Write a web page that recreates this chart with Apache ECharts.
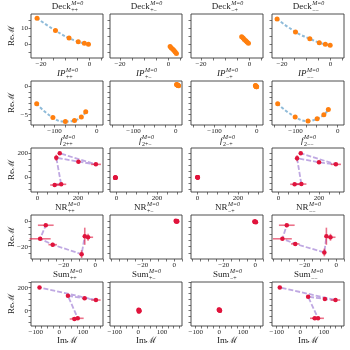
<!DOCTYPE html>
<html>
<head>
<meta charset="utf-8">
<script src="https://cdn.jsdelivr.net/npm/echarts@6/dist/echarts.min.js"></script>
<style>
  html, body { margin: 0; padding: 0; background: #fff; }
  #chart { width: 350px; height: 350px; }
</style>
</head>
<body>
<div id="chart"></div>
<script>
// ---- data (Im M on x, Re M on y) ----
// Deck
const deckPP_x = [-21.6, -14, -8.4, -4.6, -2.1, -0.4];
const deckPP_y = [16, 8.4, 3.8, 1.6, 0.6, 0];
const deckPM_x = [0.7, 1.2, 1.8, 2.3, 2.8, 3.3];
const deckPM_y = [-1.4, -2.2, -3.0, -3.8, -4.7, -5.6];
const deckMP_x = [-3.2, -2.6, -2.1, -1.5, -1.0, -0.4];
const deckMP_y = [4.6, 3.8, 3.0, 2.2, 1.4, 0.6];
const deckMM_x = [-22, -14.4, -8.5, -4.6, -2.1, -0.1];
const deckMM_y = [15.6, 7.6, 3.4, 1.0, 0, -0.6];

// IP
const ipPP_x = [-142.5, -104, -74.4, -52.7, -36.5, -26];
const ipPP_y = [-3.1, -5.5, -6.2, -6.0, -5.4, -4.5];
const ipPM_x = [2, 3, 4, 5, 6, 7];
const ipPM_y = [0.3, 0.25, 0.2, 0.15, 0.1, 0.05];
const ipMP_x = [-3, -2.4, -1.8, -1.2, -0.6, 0];
const ipMP_y = [0.1, 0.05, 0, -0.05, -0.1, -0.1];
const ipMM_x = [-142.5, -101, -70.5, -48.8, -32.8, -22.2];
const ipMM_y = [-3.1, -5.4, -6.1, -5.7, -5.0, -4.1];

// f2
const f2PP_x = [85, 117, 93, 202, 288, 110];
const f2PP_y = [-64, -58, 163, 130, 108, 200];
const f2PP_xerr = [22, 25, 5, 10, 25, 5];
const f2PP_yerr = [10, 10, 25, 8, 6, 8];
const f2PM_x = [-6, -5, -4, -5, -6, -4];
const f2PM_y = [-2, -3, -4, -3, -4, -2];
const f2PM_xerr = [1, 1, 1, 1, 1, 1];
const f2PM_yerr = [1, 1, 1, 1, 1, 1];
const f2MP_x = [0, 1, 2, 1, 0, 2];
const f2MP_y = [0, 1, -1, 0, 1, -1];
const f2MP_xerr = [1, 1, 1, 1, 1, 1];
const f2MP_yerr = [1, 1, 1, 1, 1, 1];
const f2MM_x = [80, 113, 92, 200, 283, 110];
const f2MM_y = [-58, -56, 158, 125, 108, 200];
const f2MM_xerr = [22, 25, 5, 10, 25, 5];
const f2MM_yerr = [10, 10, 25, 8, 6, 8];

// NR
const nrPP_x = [-4.5, -6.6, -8.6, -27, -35, -31.4];
const nrPP_y = [-12.6, -11.8, -25.8, -18.4, -13.8, -3.2];
const nrPP_xerr = [3.2, 1, 1, 2.7, 6.7, 5];
const nrPP_yerr = [2.7, 6.7, 3, 1.5, 1, 1];
const nrPM_x = [1, 1.5, 2, 1.2, 1.8, 1.5];
const nrPM_y = [0.3, 0, -0.3, -0.2, 0.2, 0];
const nrPM_xerr = [0.2, 0.2, 0.2, 0.2, 0.2, 0.2];
const nrPM_yerr = [0.2, 0.2, 0.2, 0.2, 0.2, 0.2];
const nrMP_x = [-0.5, 0, 0.5, -0.2, 0.3, 0];
const nrMP_y = [-0.2, -0.5, -0.8, -0.6, -0.4, -0.5];
const nrMP_xerr = [0.2, 0.2, 0.2, 0.2, 0.2, 0.2];
const nrMP_yerr = [0.2, 0.2, 0.2, 0.2, 0.2, 0.2];
const nrMM_x = [-3.6, -6.2, -7.5, -26, -34.2, -31.4];
const nrMM_y = [-12.6, -11.8, -24.5, -17.8, -13.8, -3.2];
const nrMM_xerr = [3.2, 1, 1, 2.7, 6, 5];
const nrMM_yerr = [2.7, 6.7, 3, 1.5, 1, 1];

// Sum
const sumPP_x = [64, 78, 36.5, 107, 155, -84];
const sumPP_y = [-72, -66, 130, 108, 93, 203];
const sumPP_xerr = [20, 25, 5, 8, 20, 5];
const sumPP_yerr = [10, 10, 10, 8, 8, 8];
const sumPM_x = [1, 2, 4, 3, 5, 2];
const sumPM_y = [8, 4, -4, 6, 0, -6];
const sumPM_xerr = [1, 1, 1, 1, 1, 1];
const sumPM_yerr = [1, 1, 1, 1, 1, 1];
const sumMP_x = [-2, 0, 2, 1, -1, 3];
const sumMP_y = [10, 6, 2, 8, 4, 0];
const sumMP_xerr = [1, 1, 1, 1, 1, 1];
const sumMP_yerr = [1, 1, 1, 1, 1, 1];
const sumMM_x = [61, 75, 33, 104, 149, -87];
const sumMM_y = [-66, -66, 122, 102, 93, 203];
const sumMM_xerr = [20, 25, 5, 8, 20, 5];
const sumMM_yerr = [10, 10, 10, 8, 8, 8];

// tick labels per row
const xTickLabels = [[-20, 0], [-100, 0], [0, 200], [-20, 0], [-100, 0, 100]];
const yTickLabels = [[0, 10], [-5, 0], [0, 200], [-20, 0], [0, 200]];

// ---- layout / style ----
const colLeft = [31, 110, 191, 272];
const rowTop = [14, 81, 148, 215, 282];
const PW = 72, PH = 44;
const ORANGE = '#ff7f0e', BLUE = '#1f77b4', RED = '#e0143c', PURPLE = '#a98bd8';
const FONT = '"Liberation Serif", "DejaVu Serif", serif';
const subs = ['++', '+\u2212', '\u2212+', '\u2212\u2212'];

const rows = [
  { base: 'Deck', italic: false, kind: 'fit', xr: [-24.1, 5.6], yr: [-8.4, 18.6], xm: 5, ym: 5,
    panels: [[deckPP_x, deckPP_y], [deckPM_x, deckPM_y], [deckMP_x, deckMP_y], [deckMM_x, deckMM_y]] },
  { base: 'IP', italic: true, kind: 'fit', xr: [-156, 15], yr: [-6.8, 0.9], xm: 25, ym: 1,
    panels: [[ipPP_x, ipPP_y], [ipPM_x, ipPM_y], [ipMP_x, ipMP_y], [ipMM_x, ipMM_y]] },
  { base: 'f', italic: true, pre: '2', kind: 'err', xr: [-31.5, 323], yr: [-122, 244], xm: 50, ym: 50,
    panels: [[f2PP_x, f2PP_y, f2PP_xerr, f2PP_yerr], [f2PM_x, f2PM_y, f2PM_xerr, f2PM_yerr],
             [f2MP_x, f2MP_y, f2MP_xerr, f2MP_yerr], [f2MM_x, f2MM_y, f2MM_xerr, f2MM_yerr]] },
  { base: 'NR', italic: false, kind: 'err', xr: [-40.8, 5], yr: [-29.6, 4.8], xm: 5, ym: 5,
    panels: [[nrPP_x, nrPP_y, nrPP_xerr, nrPP_yerr], [nrPM_x, nrPM_y, nrPM_xerr, nrPM_yerr],
             [nrMP_x, nrMP_y, nrMP_xerr, nrMP_yerr], [nrMM_x, nrMM_y, nrMM_xerr, nrMM_yerr]] },
  { base: 'Sum', italic: false, kind: 'err', xr: [-120, 185], yr: [-133, 250], xm: 25, ym: 50,
    panels: [[sumPP_x, sumPP_y, sumPP_xerr, sumPP_yerr], [sumPM_x, sumPM_y, sumPM_xerr, sumPM_yerr],
             [sumMP_x, sumMP_y, sumMP_xerr, sumMP_yerr], [sumMM_x, sumMM_y, sumMM_xerr, sumMM_yerr]] }
];

const fmt = v => (v < 0 ? '\u2212' + Math.abs(v) : String(v));

function minorTicks(range, step) {
  const out = [];
  for (let v = Math.ceil(range[0] / step) * step; v <= range[1]; v += step) out.push(+v.toFixed(6));
  return out;
}

const measureCtx = document.createElement('canvas').getContext('2d');
function textW(text, size, italic) {
  measureCtx.font = (italic ? 'italic ' : '') + size + 'px ' + FONT;
  return measureCtx.measureText(text).width;
}

function errorBarItem(params, api) {
  const x = api.value(0), y = api.value(1), ex = api.value(2), ey = api.value(3);
  const a = api.coord([x - ex, y]), b = api.coord([x + ex, y]);
  const c = api.coord([x, y - ey]), d = api.coord([x, y + ey]);
  const style = { stroke: RED, lineWidth: 1.6, opacity: 0.6 };
  return {
    type: 'group',
    children: [
      { type: 'line', shape: { x1: a[0], y1: a[1], x2: b[0], y2: b[1] }, style },
      { type: 'line', shape: { x1: c[0], y1: c[1], x2: d[0], y2: d[1] }, style }
    ]
  };
}

const grid = [], xAxis = [], yAxis = [], series = [], graphic = [];

rows.forEach((row, r) => {
  row.panels.forEach((p, c) => {
    const idx = grid.length;
    grid.push({
      left: colLeft[c], top: rowTop[r], width: PW, height: PH,
      show: true, borderColor: '#3a3a3a', borderWidth: 0.9, backgroundColor: 'transparent'
    });
    xAxis.push({
      gridIndex: idx, type: 'value', min: row.xr[0], max: row.xr[1], position: 'bottom',
      axisLine: { show: false, onZero: false }, splitLine: { show: false },
      axisTick: { show: true, customValues: minorTicks(row.xr, row.xm), length: 2.5, lineStyle: { color: '#3a3a3a', width: 0.7 } },
      axisLabel: { customValues: xTickLabels[r], formatter: fmt, fontSize: 7, fontFamily: FONT, color: '#222', margin: 3 }
    });
    yAxis.push({
      gridIndex: idx, type: 'value', min: row.yr[0], max: row.yr[1], position: 'left',
      axisLine: { show: false, onZero: false }, splitLine: { show: false },
      axisTick: { show: true, customValues: minorTicks(row.yr, row.ym), length: 2.5, lineStyle: { color: '#3a3a3a', width: 0.7 } },
      axisLabel: { show: c === 0, customValues: yTickLabels[r], formatter: fmt, fontSize: 7, fontFamily: FONT, color: '#222', margin: 3 }
    });

    const pts = p[0].map((x, i) => [x, p[1][i]]);
    if (row.kind === 'fit') {
      series.push({
        type: 'line', xAxisIndex: idx, yAxisIndex: idx, data: pts, smooth: true,
        showSymbol: false, silent: true, z: 1,
        lineStyle: { color: BLUE, width: 2, opacity: 0.5, type: [3, 2] }
      });
      series.push({
        type: 'scatter', xAxisIndex: idx, yAxisIndex: idx, data: pts, symbolSize: 5, z: 3,
        itemStyle: { color: ORANGE, opacity: 1 }
      });
    } else {
      series.push({
        type: 'line', xAxisIndex: idx, yAxisIndex: idx, data: pts, showSymbol: false, silent: true, z: 1,
        lineStyle: { color: PURPLE, width: 1.8, opacity: 0.75, type: [5, 2] }
      });
      series.push({
        type: 'custom', xAxisIndex: idx, yAxisIndex: idx, renderItem: errorBarItem, z: 2,
        encode: { x: 0, y: 1 },
        data: pts.map((q, i) => [q[0], q[1], p[2][i], p[3][i]])
      });
      series.push({
        type: 'scatter', xAxisIndex: idx, yAxisIndex: idx, data: pts, symbolSize: 4.5, z: 3,
        itemStyle: { color: RED, opacity: 1 }
      });
    }

    // panel title: base + optional lowered prefix + stacked sup/sub
    const bs = 9, ss = 6;
    const sub = (row.pre || '') + subs[c];
    const wBase = textW(row.base, bs, row.italic);
    const wStack = Math.max(textW('M=0', ss, false), textW(sub, ss, false));
    const x0 = colLeft[c] + PW / 2 - (wBase + wStack) / 2;
    const yc = rowTop[r] - 7;
    graphic.push({ type: 'text', x: x0, y: yc, style: { text: row.base, font: (row.italic ? 'italic ' : '') + bs + 'px ' + FONT, fill: '#222', textAlign: 'left', textVerticalAlign: 'middle' } });
    graphic.push({ type: 'text', x: x0 + wBase + 0.5, y: yc - 3.5, style: { text: 'M=0', font: 'italic ' + ss + 'px ' + FONT, fill: '#222', textAlign: 'left', textVerticalAlign: 'middle' } });
    graphic.push({ type: 'text', x: x0 + wBase + 0.5, y: yc + 3, style: { text: sub, font: ss + 'px ' + FONT, fill: '#222', textAlign: 'left', textVerticalAlign: 'middle' } });
  });

  // y label on the left column
  graphic.push({
    type: 'text', x: 12, y: rowTop[r] + PH / 2, rotation: Math.PI / 2,
    style: { text: 'Re\u2133', font: '9px ' + FONT, fill: '#222', textAlign: 'center', textVerticalAlign: 'middle' }
  });
});

// x labels under the bottom row
colLeft.forEach(l => {
  graphic.push({
    type: 'text', x: l + PW / 2, y: rowTop[4] + PH + 15,
    style: { text: 'Im\u2133', font: '9px ' + FONT, fill: '#222', textAlign: 'center', textVerticalAlign: 'middle' }
  });
});

const chart = echarts.init(document.getElementById('chart'));
chart.setOption({ animation: false, grid, xAxis, yAxis, series, graphic });
</script>
</body>
</html>
